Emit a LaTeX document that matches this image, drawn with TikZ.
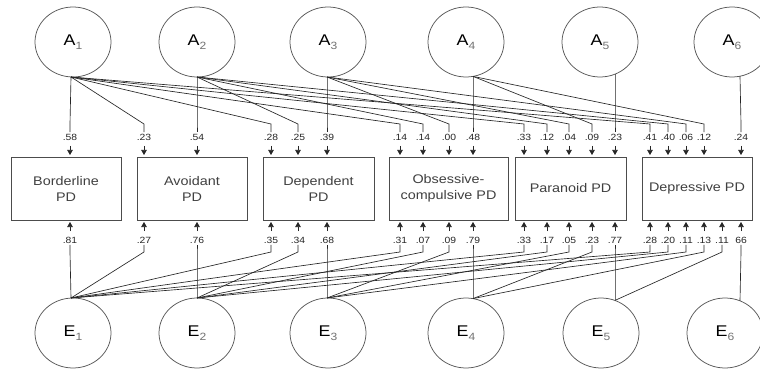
\documentclass[tikz,border=0pt]{standalone}
\usepackage{fontspec}
\setmainfont[FakeStretch=1.15]{Liberation Sans}
\usetikzlibrary{arrows.meta,shapes.geometric}
\newcommand\sbx[1]{\raisebox{-4pt}{\fontsize{10.5}{10.5}\selectfont\color{black!55}#1}}
\begin{document}
\begin{tikzpicture}[x=1pt,y=-1pt,
 lat/.style={draw=black!65, line width=0.75pt, ellipse, minimum width=76pt, minimum height=70pt, inner sep=0pt, font=\fontsize{15.5}{15.5}\selectfont},
 pdbox/.style={draw=black!70, line width=0.75pt, minimum height=63pt, align=center, font=\fontsize{12.5}{16}\selectfont, text=black!75},
 coef/.style={font=\fontsize{9}{9}\selectfont, inner sep=1.5pt, text=black!85},
 lnk/.style={draw=black!85, line width=0.65pt},
 arr/.style={lnk, -{Triangle[length=5pt,width=5.5pt]}}]
\useasboundingbox (0,0) rectangle (760,374);
\fill[white] (0,0) rectangle (760,374);
% latent factors
\node[lat] (A1) at (73,42) {A\sbx{1}};
\node[lat] (A2) at (197,42) {A\sbx{2}};
\node[lat] (A3) at (328,42) {A\sbx{3}};
\node[lat] (A4) at (466,42) {A\sbx{4}};
\node[lat] (A5) at (600,42) {A\sbx{5}};
\node[lat] (A6) at (732,42) {A\sbx{6}};
\node[lat] (E1) at (73,333) {E\sbx{1}};
\node[lat] (E2) at (197,333) {E\sbx{2}};
\node[lat] (E3) at (328,333) {E\sbx{3}};
\node[lat] (E4) at (466,333) {E\sbx{4}};
\node[lat] (E5) at (601,333) {E\sbx{5}};
\node[lat] (E6) at (725,333) {E\sbx{6}};
% source points
\coordinate (sA1) at (71,77);
\coordinate (sA2) at (197,77);
\coordinate (sA3) at (327,77);
\coordinate (sA4) at (473,76.4);
\coordinate (sA5) at (615,74.2);
\coordinate (sA6) at (740,76.2);
\coordinate (sE1) at (71,298);
\coordinate (sE2) at (197,298);
\coordinate (sE3) at (327,298);
\coordinate (sE4) at (473,298.6);
\coordinate (sE5) at (615,300.4);
\coordinate (sE6) at (740,300.8);
% boxes
\node[pdbox, minimum width=110pt] (B1) at (66,188.5) {Borderline\\PD};
\node[pdbox, minimum width=110pt] (B2) at (192,188.5) {Avoidant\\PD};
\node[pdbox, minimum width=111pt] (B3) at (318.5,188.5) {Dependent\\PD};
\node[pdbox, minimum width=119pt] (B4) at (448.5,188.5) {Obsessive-\\compulsive PD};
\node[pdbox, minimum width=111pt] (B5) at (570.5,188.5) {Paranoid PD};
\node[pdbox, minimum width=110pt] (B6) at (697,188.5) {Depressive PD};
% top paths
\foreach \x/\t/\s [count=\i] in {70/.58/1, 144/.23/1, 197/.54/2, 271/.28/1, 298/.25/2, 327/.39/3,
  400/.14/1, 423/.14/2, 449/.00/3, 473/.48/4,
  524/.33/1, 547/.12/2, 569/.04/3, 592/.09/4, 615/.23/5,
  650/.41/1, 668/.40/2, 686/.06/3, 704/.12/4, 741/.24/6}{
  \node[coef] (t\i) at (\x,137) {\t};
  \draw[lnk] (sA\s) -- (\x,124) -- (t\i.north);
  \draw[arr] (\x,146) -- (\x,155);
}
% bottom paths
\foreach \x/\t/\s [count=\i] in {70/.81/1, 144/.27/1, 197/.76/2, 271/.35/1, 298/.34/2, 327/.68/3,
  400/.31/1, 423/.07/2, 449/.09/3, 473/.79/4,
  524/.33/1, 547/.17/2, 569/.05/3, 592/.23/4, 615/.77/5,
  650/.28/1, 668/.20/2, 686/.11/3, 704/.13/4, 722/.11/5, 741/66/6}{
  \node[coef] (u\i) at (\x,240) {\t};
  \draw[lnk] (sE\s) -- (\x,252) -- (u\i.south);
  \draw[arr] (\x,231) -- (\x,222);
}
\end{tikzpicture}
\end{document}
